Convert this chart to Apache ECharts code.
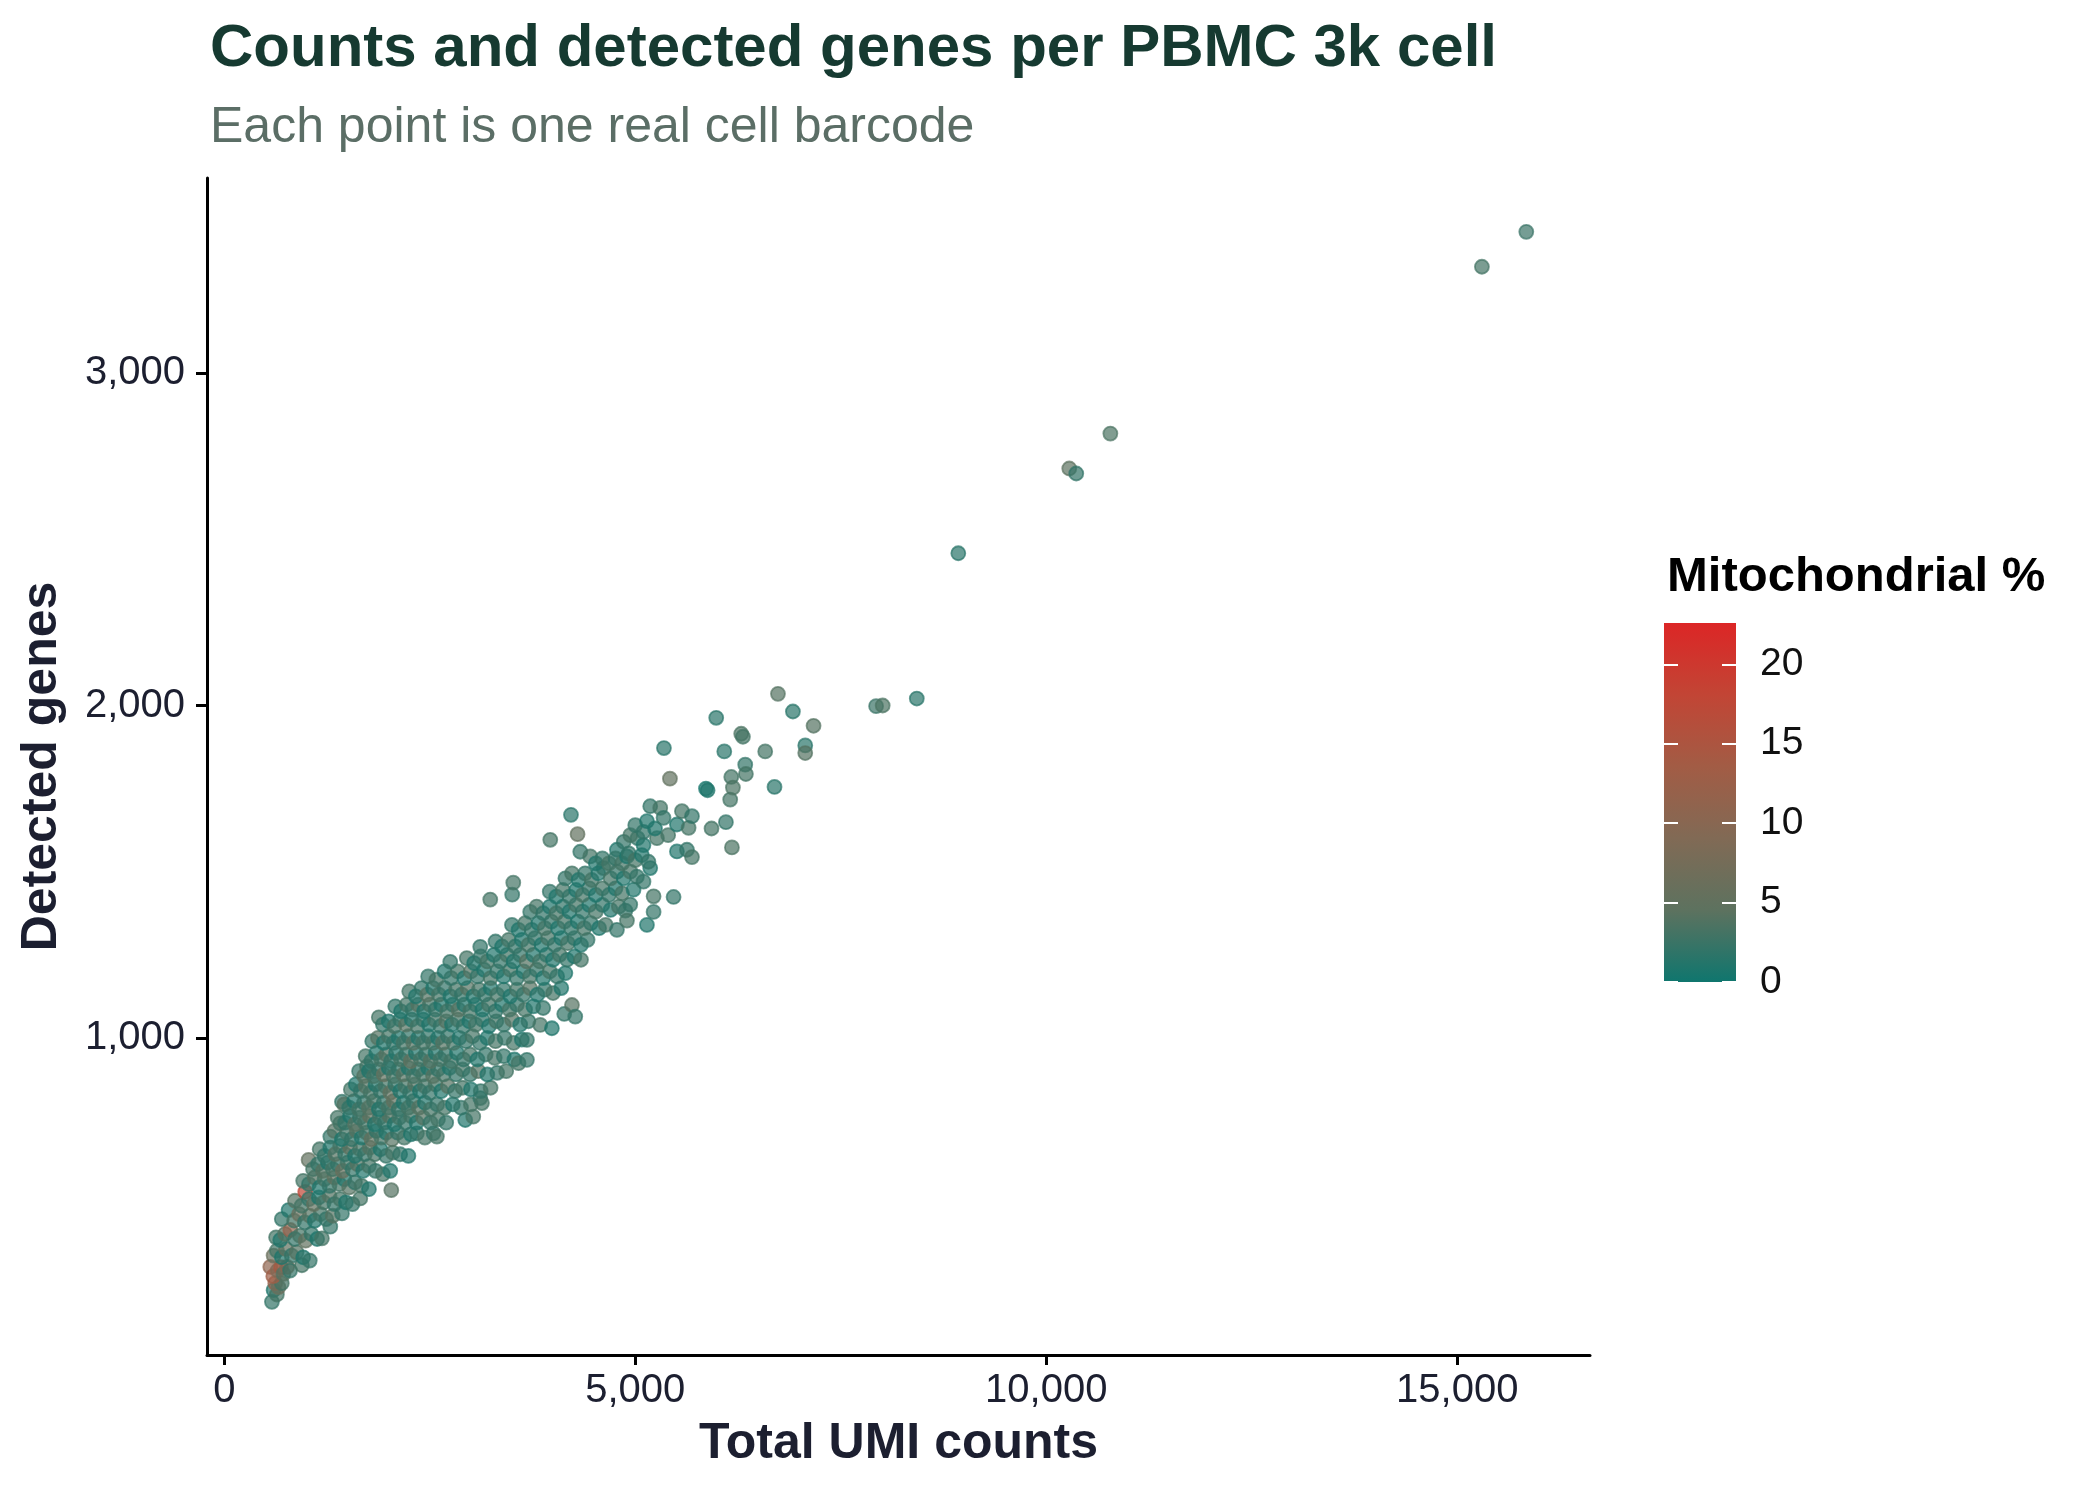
<!DOCTYPE html>
<html><head><meta charset="utf-8">
<script src="https://cdn.jsdelivr.net/npm/echarts@6/dist/echarts.min.js"></script>
<style>html,body{margin:0;padding:0;background:#fff}#chart{width:2100px;height:1500px}</style>
</head><body><div id="chart"></div>
<script>
// ---- data (one entry per cell barcode) ----
const umiCounts = [
580,600,640,620,660,700,
560,596,650,690,720,765,800,945,
600,640,700,750,820,880,960,1040,
630,681,740,803,860,920,990,1060,1130,1188,1290,
700,782,850,910,980,1040,1100,1170,1240,1320,1432,
860,940,985,1030,1090,1150,1210,1280,1340,1410,1480,1560,1655,
960,1030,1100,1160,1220,1280,1340,1400,1460,1520,1590,1670,1760,2032,
1026,1080,1140,1200,1260,1320,1380,1440,1500,1560,1620,1690,1760,1840,1930,2020,
1160,1220,1290,1350,1410,1470,1530,1590,1650,1710,1770,1830,1900,1970,2050,2140,2240,
1290,1340,1411,1430,1490,1550,1610,1670,1730,1790,1850,1910,1970,2040,2110,2190,2270,2344,2440,2546,2587,
1380,1432,1470,1530,1590,1650,1710,1770,1830,1890,1950,2010,2070,2130,2200,2270,2340,2420,2510,2600,2700,2932,3029,
1460,1520,1580,1640,1700,1760,1820,1880,1940,2000,2060,2120,2180,2240,2300,2370,2440,2510,2590,2680,2780,2880,3000,3114,3135,
1540,1600,1660,1720,1780,1840,1900,1960,2020,2080,2140,2200,2260,2320,2380,2440,2500,2570,2640,2720,2810,2900,3000,3120,3240,
1640,1700,1736,1760,1820,1880,1940,2000,2060,2120,2180,2240,2300,2360,2420,2480,2540,2600,2670,2740,2820,2900,2990,3090,3200,3320,3430,
1720,1790,1850,1910,1970,2030,2090,2150,2210,2270,2330,2390,2450,2510,2570,2630,2690,2760,2830,2910,2990,3080,3180,3290,3400,3530,3580,3682,
1800,1870,1940,2000,2060,2120,2180,2240,2300,2360,2420,2480,2540,2600,2660,2720,2790,2860,2940,3020,3110,3200,3300,3410,3520,3620,3682,
1880,1930,2000,2070,2140,2210,2280,2350,2420,2490,2560,2630,2700,2770,2840,2910,2980,3060,3140,3220,3310,3400,3500,3600,3700,3844,3986,
2080,2150,2220,2290,2360,2430,2500,2570,2640,2710,2780,2850,2920,2990,3060,3140,3220,3300,3380,3470,3560,3660,3760,3880,4136,4230,4270,
2250,2330,2400,2470,2540,2610,2680,2750,2820,2890,2960,3030,3100,3170,3240,3320,3400,3480,3560,3640,3720,3810,3900,4000,4100,
2480,2580,2680,2760,2840,2920,3000,3080,3160,3240,3320,3400,3480,3560,3640,3720,3800,3880,3960,4050,4150,
2749,2950,3040,3114,3120,3200,3280,3360,3440,3520,3600,3680,3760,3840,3920,4000,4080,4170,4260,4340,
3300,3380,3460,3540,3620,3700,3780,3860,3940,4020,4100,4180,4260,4340,4420,
3500,3580,3660,3740,3820,3900,3980,4060,4140,4220,4300,4380,4460,4560,4640,4777,
3722,3800,3880,3960,4040,4120,4200,4280,4360,4440,4520,4600,4700,4800,4880,4899,4939,5142,5223,
3236,3503,3516,3960,4040,4120,4200,4280,4360,4440,4520,4600,4680,4760,4840,4979,5223,5466,
4150,4230,4310,4390,4470,4550,4614,4700,4780,4860,4940,5020,5182,5100,
4331,4452,4520,4600,4680,4777,4760,4840,4899,4920,5000,5028,5080,5160,5264,5507,5629,5690,
3966,4218,4298,4860,4940,5100,5000,5100,5142,5182,5240,5304,5344,5400,5507,5568,5649,5690,
5349,5422,5860,5880,5928,5985,6083,6103,6155,6168,6176,6188,6289,6310,6338,6346,6581,6694,6736,6918,7068,7068,7169,
7930,8010,8425,8930,10280,10365,10780,15300,15840
];
const detectedGenes = [
206,241,228,262,250,262,
311,283,300,310,290,311,300,316,
345,360,340,365,345,355,340,330,
400,392,410,422,395,405,390,410,395,397,432,
455,482,450,470,445,465,450,470,455,465,472,
510,495,537,515,500,520,505,525,500,515,505,500,517,
570,560,580,550,575,555,580,560,575,550,565,555,545,542,
633,605,620,600,625,605,620,600,625,605,620,600,615,600,590,600,
665,645,670,650,675,650,670,645,665,650,670,650,665,645,655,650,645,
703,720,743,695,715,695,720,700,715,695,720,700,715,695,715,700,710,713,700,713,703,
760,808,745,765,740,760,745,765,740,760,745,765,740,760,745,765,745,760,745,755,745,753,763,
800,790,810,785,805,790,810,785,805,790,810,785,805,790,810,790,805,785,800,790,800,790,800,819,804,
845,860,840,855,835,860,840,855,835,860,840,855,835,860,840,855,835,860,840,855,840,850,845,840,850,
900,885,914,900,885,905,890,910,885,905,890,910,885,905,890,910,885,905,890,910,890,905,890,900,890,895,900,
945,930,955,935,950,930,955,935,950,930,955,935,950,930,955,935,950,930,955,935,950,935,950,940,945,935,924,934,
990,1000,985,1005,985,1000,985,1005,985,1000,985,1005,985,1000,985,1005,985,1000,990,1005,985,1000,990,1000,985,995,994,
1062,1040,1050,1035,1055,1040,1055,1035,1055,1040,1055,1035,1050,1040,1055,1035,1050,1040,1055,1035,1050,1040,1055,1040,1050,1039,1029,
1095,1080,1100,1085,1100,1080,1100,1085,1100,1080,1100,1085,1100,1080,1100,1085,1100,1080,1100,1085,1100,1085,1095,1090,1072,1099,1064,
1140,1125,1150,1130,1150,1130,1150,1125,1145,1130,1150,1125,1145,1130,1150,1130,1145,1125,1145,1130,1150,1130,1145,1135,1150,
1185,1175,1200,1180,1200,1180,1200,1185,1205,1180,1200,1185,1205,1180,1200,1185,1205,1180,1200,1185,1195,
1229,1240,1225,1274,1245,1230,1250,1230,1250,1230,1250,1230,1250,1230,1250,1235,1250,1235,1245,1235,
1290,1275,1295,1275,1295,1280,1300,1280,1300,1280,1300,1285,1300,1280,1295,
1340,1325,1345,1325,1345,1330,1350,1330,1350,1330,1350,1330,1345,1330,1340,1325,
1379,1395,1375,1395,1375,1395,1380,1400,1380,1400,1380,1400,1385,1395,1383,1353,1401,1340,1379,
1416,1431,1467,1440,1425,1445,1425,1445,1430,1450,1430,1450,1430,1450,1435,1446,1426,1424,
1480,1495,1475,1495,1475,1495,1511,1480,1500,1480,1500,1485,1511,1470,
1560,1546,1525,1540,1525,1566,1540,1525,1546,1555,1535,1601,1550,1530,1601,1561,1566,1544,
1596,1671,1613,1590,1610,1580,1640,1620,1652,1697,1630,1692,1662,1610,1642,1682,1632,1667,
1872,1780,1750,1745,1630,1963,1862,1649,1717,1785,1573,1753,1915,1906,1822,1794,1862,1755,2035,1982,1880,1857,1939,
1998,2000,2021,2458,2713,2698,2818,3320,3425
];
const mitoPercent = [
2,1,3,12,6,3,
11,13,9,14,4,10,2,3,
6,3,1,5,2,4,1,2,
3,1,4,12,2,3,5,2,1,3,2,
2,1,3,6,2,4,1,3,2,4,2,
4,3,18,2,5,1,3,4,2,3,1,2,3,
3,2,4,1,3,2,5,3,1,4,2,3,1,4,
5,3,2,4,1,3,2,6,3,2,4,1,3,2,3,1,
3,2,1,4,3,2,5,1,3,2,4,3,1,2,3,2,1,
2,4,3,1,3,2,4,1,3,5,2,3,1,4,2,3,1,2,3,2,3,
3,2,2,1,4,2,3,5,1,3,2,4,1,3,2,3,1,4,2,3,2,1,3,
4,2,1,3,2,4,3,1,2,3,5,2,1,3,2,4,1,3,2,3,1,2,3,2,3,
3,1,2,4,3,1,2,3,5,2,1,3,2,4,1,3,2,3,1,4,2,3,1,2,3,
2,4,3,1,3,2,5,1,3,2,4,1,3,2,3,1,4,2,3,1,2,3,2,4,1,2,3,
3,2,1,3,4,2,1,3,2,5,1,3,2,4,1,3,2,3,1,2,3,1,2,3,2,1,3,2,
2,4,1,3,2,1,3,2,4,1,3,2,3,1,4,2,3,1,2,3,2,1,3,2,3,1,2,
3,2,1,3,2,4,1,3,2,1,3,2,4,1,3,2,1,3,2,1,3,2,4,1,2,3,1,
2,1,3,2,4,1,3,2,1,3,2,4,1,3,2,1,3,2,1,3,2,3,1,2,2,4,2,
3,1,2,4,1,3,2,1,3,2,4,1,3,2,1,3,2,1,3,2,4,1,2,3,1,
2,3,1,2,3,1,4,2,1,3,2,1,3,2,1,3,2,1,3,2,1,
2,3,1,2,2,3,1,2,3,1,2,4,1,3,2,1,3,2,1,3,
2,1,3,2,1,3,2,1,3,2,1,3,2,1,2,
2,1,3,2,1,3,2,1,3,2,1,3,2,1,3,2,
2,3,2,1,3,2,1,3,2,1,3,2,1,3,2,3,2,1,2,
3,2,3,2,1,3,2,1,3,2,1,3,2,1,3,1,3,2,
2,3,1,2,3,1,2,3,2,1,3,2,1,2,
2,3,1,2,3,1,2,3,1,2,3,2,1,2,3,1,2,3,
3,1.5,5,2,3,1,2,2,1,2,1,3,2,3,1,3,3,2,
1.5,5,0.5,1,3,1.5,1.5,2,3,3,3.5,3.5,3.5,3,2,3,3,1.5,4,1.5,1.5,4,4,
2.5,3.5,1.5,1.5,4.5,2,3.5,3,2.5
];
const xTickValues = [0, 5000, 10000, 15000];
const yTickValues = [1000, 2000, 3000];
const mitoTickValues = [0, 5, 10, 15, 20];
const mitoLimits = [0, 22.6];
const mitoPalette = ['#0f766e', '#5d725f', '#816a55', '#a25c45', '#c24535', '#dc2626'];

// ---- chart ----
const FONT = "'Liberation Sans', Helvetica, Arial, sans-serif";
const chart = echarts.init(document.getElementById('chart'), null, {renderer: 'canvas', width: 2100, height: 1500});
const n = Math.min(umiCounts.length, detectedGenes.length, mitoPercent.length);
const span = mitoLimits[1] - mitoLimits[0];
const points = [];
for (let i = 0; i < n; i++) {
  points.push({
    value: [umiCounts[i], detectedGenes[i], mitoPercent[i]],
    // outline in the same mapped colour (fill itself comes from the visualMap)
    itemStyle: {borderColor: echarts.color.lerp((mitoPercent[i] - mitoLimits[0]) / span, mitoPalette)}
  });
}
const fmt = v => Number(v).toLocaleString('en-US');
const gradStops = mitoPalette.map((c, i) => ({offset: i / (mitoPalette.length - 1), color: c}));

chart.setOption({
  backgroundColor: '#ffffff',
  animation: false,
  textStyle: {fontFamily: FONT},
  title: [
    {text: 'Counts and detected genes per PBMC 3k cell', left: 205, top: 14,
     textStyle: {fontFamily: FONT, fontSize: 60, fontWeight: 'bold', color: '#163a31'}},
    {text: 'Each point is one real cell barcode', left: 205, top: 98,
     textStyle: {fontFamily: FONT, fontSize: 50, fontWeight: 'normal', color: '#5b6e66'}},
    {text: 'Mitochondrial %', left: 1662, top: 548,
     textStyle: {fontFamily: FONT, fontSize: 49, fontWeight: 'bold', color: '#000000'}}
  ],
  grid: [
    {left: 207, top: 178, width: 1383, height: 1177},
    {left: 1664, top: 623, width: 72, height: 359}
  ],
  xAxis: [
    {type: 'value', gridIndex: 0, min: -210, max: 16615,
     axisLine: {show: true, onZero: false, lineStyle: {color: '#000', width: 3}},
     axisTick: {show: true, length: 10, customValues: xTickValues, lineStyle: {color: '#000', width: 3}},
     axisLabel: {show: true, customValues: xTickValues, formatter: fmt, fontFamily: FONT, fontSize: 40, color: '#1c1f30', margin: 16},
     splitLine: {show: false},
     name: 'Total UMI counts', nameLocation: 'middle', nameGap: 64,
     nameTextStyle: {fontFamily: FONT, fontSize: 50, fontWeight: 'bold', color: '#1c1f30'}},
    {type: 'category', gridIndex: 1, data: ['mito'], show: false, boundaryGap: true}
  ],
  yAxis: [
    {type: 'value', gridIndex: 0, min: 46, max: 3587,
     axisLine: {show: true, onZero: false, lineStyle: {color: '#000', width: 3}},
     axisTick: {show: true, length: 11, customValues: yTickValues, lineStyle: {color: '#000', width: 3}},
     axisLabel: {show: true, customValues: yTickValues, formatter: fmt, fontFamily: FONT, fontSize: 40, color: '#1c1f30', margin: 22},
     splitLine: {show: false},
     name: 'Detected genes', nameLocation: 'middle', nameGap: 140,
     nameTextStyle: {fontFamily: FONT, fontSize: 50, fontWeight: 'bold', color: '#1c1f30'}},
    {type: 'value', gridIndex: 1, position: 'right', min: mitoLimits[0], max: mitoLimits[1], z: 5,
     axisLine: {show: false},
     axisTick: {show: true, inside: true, length: 14, customValues: mitoTickValues, lineStyle: {color: '#ffffff', width: 2}},
     axisLabel: {show: true, customValues: mitoTickValues, fontFamily: FONT, fontSize: 39, color: '#111111', margin: 24},
     splitLine: {show: false}},
    {type: 'value', gridIndex: 1, position: 'left', min: mitoLimits[0], max: mitoLimits[1], z: 5,
     axisLine: {show: false},
     axisTick: {show: true, inside: true, length: 14, customValues: mitoTickValues, lineStyle: {color: '#ffffff', width: 2}},
     axisLabel: {show: false},
     splitLine: {show: false}}
  ],
  visualMap: [{
    type: 'continuous', show: false, seriesIndex: 0, dimension: 2,
    min: mitoLimits[0], max: mitoLimits[1], inRange: {color: mitoPalette}
  }],
  series: [
    {type: 'scatter', xAxisIndex: 0, yAxisIndex: 0, data: points,
     symbol: 'circle', symbolSize: 14, progressive: 0, large: false, silent: true,
     itemStyle: {opacity: 0.7, borderWidth: 1.8}},
    {type: 'bar', xAxisIndex: 1, yAxisIndex: 1, data: [mitoLimits[1]], barWidth: '100%', z: 1, silent: true,
     itemStyle: {color: new echarts.graphic.LinearGradient(0, 1, 0, 0, gradStops)}}
  ]
});
</script>
</body></html>
